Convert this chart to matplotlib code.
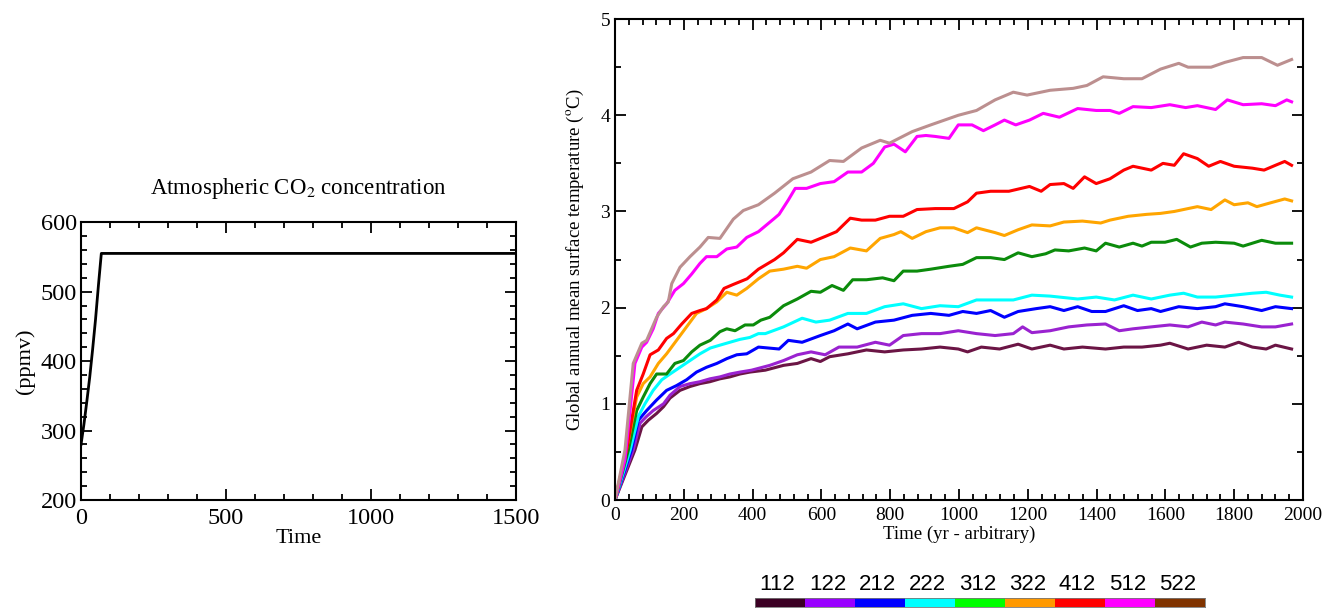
import matplotlib
matplotlib.use("Agg")
import matplotlib.pyplot as plt
from matplotlib.ticker import MultipleLocator

plt.rcParams['font.family'] = ['Liberation Serif', 'DejaVu Serif']
plt.rcParams['mathtext.fontset'] = 'stix'

# --- left panel: CO2 forcing
co2_t = [0, 10, 20, 30, 40, 50, 60, 70, 1500]
co2 = [280, 309, 342, 377, 417, 460, 509, 555, 555]

# --- right panel: temperature response per run
runs = ['112', '122', '212', '222', '312', '322', '412', '512', '522']
line_colors = ['#6b1545', '#9a22d0', '#0000ff', '#00ffff', '#0b8b0b',
               '#ffa500', '#ff0000', '#ff00ff', '#bc8f8f']
key_colors = ['#3b0023', '#9900ff', '#0000ff', '#00ffff', '#00ff00',
              '#ff9900', '#ff0000', '#ff00ff', '#803300']

t_112 = [0, 58, 78, 97, 121, 141, 160, 189, 218, 247, 276, 305, 334, 363, 392, 437, 490, 530, 570, 597,
         624, 677, 731, 784, 838, 891, 945, 998, 1025, 1065, 1118, 1172, 1212, 1265, 1305, 1359, 1426,
         1479, 1532, 1586, 1613, 1666, 1720, 1773, 1813, 1853, 1893, 1920, 1967]
T_112 = [0, 0.52, 0.76, 0.83, 0.90, 0.97, 1.06, 1.14, 1.18, 1.21, 1.23, 1.26, 1.28, 1.31, 1.33, 1.35, 1.40,
         1.42, 1.47, 1.44, 1.49, 1.52, 1.56, 1.54, 1.56, 1.57, 1.59, 1.57, 1.54, 1.59, 1.57, 1.62, 1.57,
         1.61, 1.57, 1.59, 1.57, 1.59, 1.59, 1.61, 1.63, 1.57, 1.61, 1.59, 1.64, 1.59, 1.57, 1.61, 1.57]

t_122 = [0, 53, 73, 92, 111, 141, 160, 189, 218, 247, 276, 305, 334, 363, 397, 450, 490, 530, 570, 611,
         651, 704, 757, 798, 838, 891, 945, 998, 1051, 1105, 1158, 1185, 1212, 1265, 1319, 1372, 1426,
         1466, 1506, 1559, 1613, 1666, 1706, 1746, 1773, 1826, 1880, 1920, 1967]
T_122 = [0, 0.52, 0.80, 0.87, 0.93, 1.00, 1.09, 1.18, 1.21, 1.23, 1.26, 1.28, 1.31, 1.33, 1.35, 1.40, 1.45,
         1.51, 1.54, 1.51, 1.59, 1.59, 1.64, 1.61, 1.71, 1.73, 1.73, 1.76, 1.73, 1.71, 1.73, 1.80, 1.74,
         1.76, 1.80, 1.82, 1.83, 1.76, 1.78, 1.80, 1.82, 1.80, 1.85, 1.82, 1.85, 1.83, 1.80, 1.80, 1.83]

t_212 = [0, 48, 68, 92, 121, 150, 179, 208, 237, 266, 296, 325, 354, 383, 417, 477, 504, 544, 597, 637,
         677, 704, 757, 811, 864, 918, 971, 1011, 1051, 1092, 1132, 1172, 1225, 1265, 1305, 1345, 1386,
         1426, 1479, 1519, 1559, 1586, 1639, 1693, 1746, 1773, 1826, 1880, 1920, 1967]
T_212 = [0, 0.52, 0.83, 0.93, 1.04, 1.14, 1.19, 1.25, 1.33, 1.38, 1.42, 1.47, 1.51, 1.52, 1.59, 1.57, 1.66,
         1.64, 1.71, 1.76, 1.83, 1.78, 1.85, 1.87, 1.92, 1.94, 1.92, 1.96, 1.94, 1.97, 1.90, 1.96, 1.99,
         2.01, 1.97, 2.01, 1.96, 1.96, 2.02, 1.97, 1.99, 1.96, 2.01, 1.99, 2.01, 2.04, 2.01, 1.97, 2.01, 1.99]

t_222 = [0, 44, 68, 87, 111, 136, 160, 189, 218, 247, 277, 305, 334, 363, 392, 417, 437, 490, 544, 584,
         624, 677, 731, 784, 838, 891, 945, 998, 1051, 1105, 1158, 1212, 1265, 1345, 1399, 1452, 1506,
         1559, 1613, 1653, 1693, 1746, 1800, 1853, 1893, 1933, 1967]
T_222 = [0, 0.52, 0.87, 1.00, 1.14, 1.25, 1.31, 1.38, 1.45, 1.52, 1.58, 1.61, 1.64, 1.67, 1.69, 1.73, 1.73,
         1.80, 1.89, 1.85, 1.87, 1.94, 1.94, 2.01, 2.04, 1.99, 2.02, 2.01, 2.08, 2.08, 2.08, 2.13, 2.12,
         2.09, 2.11, 2.08, 2.13, 2.09, 2.13, 2.15, 2.11, 2.11, 2.13, 2.15, 2.16, 2.13, 2.11]

t_312 = [0, 39, 63, 82, 102, 121, 150, 174, 199, 223, 247, 277, 305, 325, 349, 378, 402, 424, 450, 490,
         530, 570, 597, 631, 664, 691, 731, 778, 811, 838, 878, 918, 971, 1011, 1051, 1092, 1132, 1172,
         1212, 1252, 1279, 1319, 1365, 1399, 1426, 1466, 1506, 1532, 1559, 1599, 1633, 1673, 1706, 1746,
         1800, 1826, 1880, 1920, 1967]
T_312 = [0, 0.52, 0.93, 1.07, 1.21, 1.31, 1.31, 1.42, 1.45, 1.54, 1.61, 1.66, 1.75, 1.78, 1.76, 1.82, 1.82,
         1.87, 1.90, 2.02, 2.09, 2.17, 2.16, 2.23, 2.18, 2.29, 2.29, 2.31, 2.28, 2.38, 2.38, 2.40, 2.43,
         2.45, 2.52, 2.52, 2.50, 2.57, 2.53, 2.56, 2.60, 2.59, 2.62, 2.59, 2.67, 2.63, 2.67, 2.64, 2.68,
         2.68, 2.71, 2.63, 2.67, 2.68, 2.67, 2.64, 2.70, 2.67, 2.67]

t_322 = [0, 39, 63, 82, 102, 126, 150, 179, 208, 237, 266, 296, 325, 354, 383, 417, 450, 490, 530, 557,
         597, 637, 684, 731, 771, 811, 831, 864, 904, 945, 985, 1025, 1051, 1105, 1132, 1172, 1212, 1265,
         1305, 1359, 1412, 1439, 1492, 1546, 1586, 1626, 1666, 1693, 1733, 1773, 1800, 1840, 1866, 1906,
         1947, 1967]
T_322 = [0, 0.62, 1.07, 1.21, 1.28, 1.42, 1.52, 1.66, 1.80, 1.94, 1.99, 2.06, 2.16, 2.13, 2.20, 2.30, 2.38,
         2.40, 2.43, 2.41, 2.50, 2.53, 2.62, 2.59, 2.72, 2.76, 2.79, 2.72, 2.79, 2.83, 2.83, 2.78, 2.83,
         2.78, 2.75, 2.81, 2.86, 2.85, 2.89, 2.90, 2.88, 2.91, 2.95, 2.97, 2.98, 3.00, 3.03, 3.05, 3.02,
         3.12, 3.07, 3.09, 3.05, 3.09, 3.13, 3.11]

t_412 = [0, 34, 63, 82, 102, 126, 150, 170, 194, 223, 247, 266, 296, 317, 343, 384, 417, 464, 490, 530,
         570, 611, 644, 684, 717, 757, 798, 838, 878, 931, 985, 1025, 1051, 1092, 1145, 1205, 1239, 1265,
         1305, 1332, 1365, 1399, 1439, 1479, 1506, 1559, 1593, 1626, 1653, 1693, 1726, 1760, 1800, 1853,
         1887, 1920, 1947, 1967]
T_412 = [0, 0.52, 1.14, 1.31, 1.51, 1.56, 1.68, 1.73, 1.83, 1.94, 1.97, 1.99, 2.08, 2.20, 2.24, 2.30, 2.40,
         2.50, 2.57, 2.71, 2.68, 2.74, 2.79, 2.93, 2.91, 2.91, 2.95, 2.95, 3.02, 3.03, 3.03, 3.10, 3.19,
         3.21, 3.21, 3.26, 3.21, 3.28, 3.29, 3.24, 3.36, 3.29, 3.34, 3.43, 3.47, 3.43, 3.50, 3.48, 3.60,
         3.55, 3.47, 3.52, 3.47, 3.45, 3.43, 3.48, 3.52, 3.48]

t_512 = [0, 29, 58, 78, 92, 111, 126, 150, 174, 199, 223, 247, 266, 296, 325, 354, 383, 417, 464, 477,
         504, 524, 557, 597, 637, 677, 717, 751, 784, 811, 844, 878, 904, 931, 971, 998, 1038, 1071, 1105,
         1132, 1165, 1205, 1245, 1292, 1345, 1399, 1439, 1466, 1506, 1559, 1613, 1659, 1693, 1746, 1780,
         1826, 1880, 1920, 1953, 1967]
T_512 = [0, 0.42, 1.42, 1.59, 1.64, 1.78, 1.94, 2.04, 2.18, 2.25, 2.35, 2.46, 2.53, 2.53, 2.61, 2.63, 2.73,
         2.79, 2.93, 2.97, 3.12, 3.24, 3.24, 3.29, 3.31, 3.41, 3.41, 3.50, 3.67, 3.70, 3.62, 3.78, 3.79,
         3.78, 3.76, 3.90, 3.90, 3.84, 3.90, 3.95, 3.90, 3.95, 4.02, 3.98, 4.07, 4.05, 4.05, 4.02, 4.09,
         4.08, 4.11, 4.08, 4.10, 4.06, 4.16, 4.11, 4.12, 4.10, 4.16, 4.14]

t_522 = [0, 29, 53, 78, 92, 121, 141, 155, 165, 189, 218, 247, 271, 305, 344, 373, 417, 464, 517, 570,
         624, 664, 717, 771, 798, 864, 918, 998, 1051, 1105, 1158, 1198, 1265, 1332, 1372, 1419, 1479,
         1532, 1586, 1639, 1666, 1733, 1773, 1826, 1880, 1926, 1967]
T_522 = [0, 0.52, 1.42, 1.63, 1.66, 1.90, 2.01, 2.06, 2.25, 2.42, 2.53, 2.63, 2.73, 2.72, 2.92, 3.01, 3.07,
         3.19, 3.34, 3.41, 3.53, 3.52, 3.66, 3.74, 3.71, 3.83, 3.90, 4.00, 4.05, 4.16, 4.24, 4.21, 4.26,
         4.28, 4.31, 4.40, 4.38, 4.38, 4.48, 4.54, 4.50, 4.50, 4.55, 4.60, 4.60, 4.52, 4.58]

times = [t_112, t_122, t_212, t_222, t_312, t_322, t_412, t_512, t_522]
temps = [T_112, T_122, T_212, T_222, T_312, T_322, T_412, T_512, T_522]


def style_axes(ax, size):
    ax.tick_params(which='both', direction='in', top=True, right=True, labelsize=size, width=1.3)
    ax.tick_params(which='major', length=8)
    ax.tick_params(which='minor', length=4)
    for s in ax.spines.values():
        s.set_linewidth(1.5)


fig = plt.figure(figsize=(13.24, 6.08), dpi=100)

ax1 = fig.add_axes([0.0612, 0.1776, 0.3285, 0.457])
ax1.plot(co2_t, co2, color='black', lw=2)
ax1.set_xlim(0, 1500)
ax1.set_ylim(200, 600)
ax1.xaxis.set_major_locator(MultipleLocator(500))
ax1.xaxis.set_minor_locator(MultipleLocator(100))
ax1.yaxis.set_major_locator(MultipleLocator(100))
ax1.yaxis.set_minor_locator(MultipleLocator(20))
style_axes(ax1, 17.5)
ax1.tick_params(axis='y', pad=3)
ax1.tick_params(axis='x', pad=6)
ax1.set_xlabel('Time', fontsize=16, labelpad=0)
ax1.set_ylabel('(ppmv)', fontsize=16, labelpad=4)
ax1.set_title('Atmospheric CO$_2$ concentration', fontsize=16.5, pad=20)

ax2 = fig.add_axes([0.4645, 0.1776, 0.5196, 0.791])
for t, T, c in zip(times, temps, line_colors):
    ax2.plot(t, T, color=c, lw=2.2)
ax2.set_xlim(0, 2000)
ax2.set_ylim(0, 5)
ax2.xaxis.set_major_locator(MultipleLocator(200))
ax2.xaxis.set_minor_locator(MultipleLocator(40))
ax2.yaxis.set_major_locator(MultipleLocator(1))
ax2.yaxis.set_minor_locator(MultipleLocator(0.5))
style_axes(ax2, 14)
ax2.tick_params(axis='x', pad=5)
ax2.set_xlabel('Time (yr - arbitrary)', fontsize=13.5, labelpad=1)
ax2.set_ylabel('Global annual mean surface temperature ($^{\\rm o}$C)', fontsize=13.5, labelpad=10)

# colour key under the right panel
ax3 = fig.add_axes([0.5702, 0.0016, 0.3399, 0.0148])
ax3.bar(range(len(runs)), [1] * len(runs), width=1.0, color=key_colors, align='edge')
ax3.set_xlim(0, len(runs))
ax3.set_ylim(0, 1)
ax3.set_xticks([i + 0.45 for i in range(len(runs))])
ax3.set_xticklabels(runs, family=['Liberation Sans', 'DejaVu Sans'], fontsize=16)
ax3.xaxis.set_ticks_position('top')
ax3.tick_params(axis='x', length=0, pad=2)
ax3.set_yticks([])
for s in ax3.spines.values():
    s.set_linewidth(0.6)
    s.set_color('#777777')

fig.savefig('out.png', dpi=100)
